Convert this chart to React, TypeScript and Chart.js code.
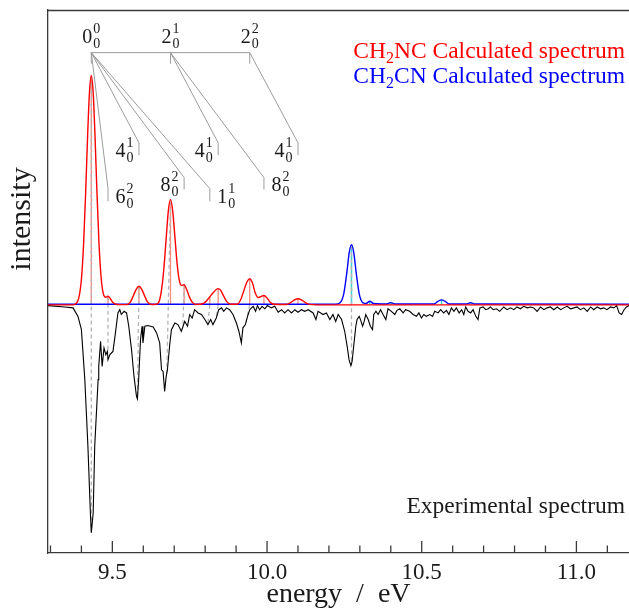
import React, { useEffect, useRef } from 'react';
import { Chart, registerables } from 'chart.js';

Chart.register(...registerables);

const FONT = '"Liberation Serif", "Times New Roman", serif';

// ---- x axis ----
const xMin = 9.292;
const xMax = 11.17;
const tickValues = [9.3, 9.4, 9.5, 9.6, 9.7, 9.8, 9.9, 10.0, 10.1, 10.2, 10.3, 10.4, 10.5, 10.6, 10.7, 10.8, 10.9, 11.0, 11.1];
const majorTickLabels = ['9.5', '10.0', '10.5', '11.0'];
const yMin = -1.082;
const yMax = 1.286;

// ---- CH2NC calculated spectrum (red envelope) ----
const ncEnergy = [9.292, 9.37, 9.382, 9.392, 9.4, 9.407, 9.414, 9.42, 9.426, 9.432, 9.438, 9.444, 9.45, 9.457, 9.464, 9.471, 9.479, 9.486, 9.493, 9.502, 9.515, 9.545, 9.558, 9.568, 9.577, 9.586, 9.595, 9.604, 9.614, 9.627, 9.642, 9.652, 9.66, 9.667, 9.674, 9.681, 9.688, 9.695, 9.702, 9.709, 9.716, 9.723, 9.732, 9.74, 9.749, 9.758, 9.77, 9.79, 9.8, 9.812, 9.825, 9.835, 9.842, 9.85, 9.86, 9.87, 9.882, 9.903, 9.914, 9.925, 9.935, 9.944, 9.953, 9.962, 9.971, 9.98, 9.99, 10.0, 10.01, 10.022, 10.062, 10.076, 10.089, 10.1, 10.111, 10.124, 10.138, 10.16, 11.17];
const ncIntensity = [0, 0, 0.005, 0.033, 0.112, 0.263, 0.5, 0.735, 0.926, 1.0, 0.926, 0.735, 0.5, 0.263, 0.115, 0.048, 0.033, 0.038, 0.028, 0.01, 0.002, 0.001, 0.012, 0.04, 0.068, 0.081, 0.068, 0.04, 0.012, 0.002, 0.003, 0.018, 0.075, 0.165, 0.29, 0.41, 0.46, 0.41, 0.3, 0.185, 0.11, 0.085, 0.088, 0.068, 0.035, 0.012, 0.002, 0.004, 0.012, 0.03, 0.052, 0.066, 0.071, 0.064, 0.038, 0.014, 0.003, 0.003, 0.02, 0.062, 0.1, 0.114, 0.095, 0.052, 0.032, 0.036, 0.041, 0.03, 0.012, 0.003, 0.002, 0.01, 0.022, 0.027, 0.022, 0.01, 0.002, 0, 0];

// ---- CH2CN calculated spectrum (blue envelope) ----
const cnEnergy = [9.292, 10.222, 10.236, 10.248, 10.258, 10.266, 10.273, 10.28, 10.288, 10.298, 10.31, 10.32, 10.332, 10.344, 10.385, 10.4, 10.415, 10.54, 10.552, 10.564, 10.576, 10.588, 10.645, 10.658, 10.671, 11.17];
const cnIntensity = [0.003, 0.003, 0.009, 0.048, 0.142, 0.231, 0.263, 0.231, 0.142, 0.048, 0.009, 0.006, 0.016, 0.006, 0.004, 0.01, 0.004, 0.004, 0.015, 0.022, 0.015, 0.004, 0.004, 0.01, 0.004, 0.003];

// ---- stick spectra ----
const ncStickE = [9.432, 9.486, 9.586, 9.688, 9.732, 9.815, 9.842, 9.944, 9.99, 10.1];
const ncStickH = [1.0, 0.035, 0.078, 0.45, 0.085, 0.035, 0.068, 0.11, 0.04, 0.025];
const cnStickE = [10.273, 10.332, 10.4, 10.564, 10.658];
const cnStickH = [0.26, 0.014, 0.008, 0.02, 0.008];

// ---- assignment links calculated -> experimental (grey dashed) ----
const linkCalcE = [9.432, 9.486, 9.586, 9.688, 9.732, 9.815, 9.842, 9.944, 10.273];
const linkCalcI = [1.0, 0.035, 0.078, 0.45, 0.085, 0, 0, 0, 0.26];
const linkExpE = [9.432, 9.486, 9.581, 9.676, 9.728, 9.809, 9.836, 9.93, 10.273];
const linkExpI = [-0.994, -0.2, -0.4, -0.3, -0.1, -0.08, -0.06, -0.09, -0.265];

// ---- experimental spectrum (plotted downwards) ----
const expEnergy = [9.292, 9.346, 9.373, 9.389, 9.4, 9.411, 9.421, 9.429, 9.432, 9.438, 9.443, 9.454, 9.456, 9.462, 9.467, 9.473, 9.479, 9.484, 9.486, 9.492, 9.502, 9.51, 9.518, 9.524, 9.529, 9.538, 9.546, 9.553, 9.562, 9.57, 9.578, 9.581, 9.585, 9.591, 9.596, 9.599, 9.605, 9.615, 9.632, 9.643, 9.653, 9.659, 9.664, 9.669, 9.674, 9.678, 9.686, 9.691, 9.702, 9.712, 9.723, 9.734, 9.743, 9.75, 9.758, 9.766, 9.777, 9.788, 9.799, 9.809, 9.818, 9.825, 9.836, 9.844, 9.853, 9.86, 9.869, 9.879, 9.89, 9.901, 9.909, 9.917, 9.922, 9.93, 9.937, 9.944, 9.955, 9.963, 9.969, 9.976, 9.984, 9.993, 10.001, 10.014, 10.025, 10.036, 10.047, 10.057, 10.068, 10.079, 10.09, 10.1, 10.111, 10.122, 10.133, 10.149, 10.158, 10.165, 10.181, 10.192, 10.203, 10.213, 10.222, 10.23, 10.241, 10.251, 10.259, 10.265, 10.271, 10.275, 10.28, 10.287, 10.291, 10.298, 10.302, 10.309, 10.314, 10.319, 10.327, 10.334, 10.341, 10.345, 10.352, 10.359, 10.367, 10.375, 10.384, 10.391, 10.402, 10.413, 10.42, 10.429, 10.44, 10.448, 10.461, 10.472, 10.483, 10.491, 10.499, 10.507, 10.515, 10.526, 10.535, 10.542, 10.553, 10.561, 10.571, 10.58, 10.588, 10.596, 10.604, 10.612, 10.621, 10.629, 10.636, 10.642, 10.65, 10.658, 10.666, 10.675, 10.682, 10.688, 10.698, 10.707, 10.715, 10.722, 10.731, 10.742, 10.752, 10.765, 10.776, 10.787, 10.798, 10.808, 10.819, 10.83, 10.841, 10.852, 10.862, 10.873, 10.884, 10.895, 10.905, 10.916, 10.927, 10.938, 10.949, 10.959, 10.97, 10.981, 10.992, 11.002, 11.013, 11.024, 11.035, 11.046, 11.056, 11.067, 11.078, 11.088, 11.099, 11.11, 11.121, 11.13, 11.138, 11.146, 11.154, 11.162, 11.17];
const expIntensity = [-0.003, -0.009, -0.013, -0.05, -0.108, -0.326, -0.617, -0.908, -0.994, -0.908, -0.617, -0.326, -0.268, -0.159, -0.268, -0.188, -0.217, -0.203, -0.239, -0.217, -0.203, -0.122, -0.035, -0.021, -0.042, -0.028, -0.035, -0.093, -0.195, -0.312, -0.399, -0.41, -0.326, -0.152, -0.093, -0.166, -0.093, -0.09, -0.096, -0.122, -0.166, -0.283, -0.29, -0.377, -0.312, -0.283, -0.166, -0.108, -0.079, -0.086, -0.115, -0.072, -0.093, -0.042, -0.057, -0.021, -0.035, -0.042, -0.064, -0.086, -0.064, -0.086, -0.057, -0.021, -0.013, -0.028, -0.013, -0.021, -0.042, -0.079, -0.115, -0.166, -0.1, -0.086, -0.05, -0.021, -0.006, -0.028, -0.003, -0.021, -0.006, -0.017, -0.003, -0.013, -0.006, -0.032, -0.021, -0.035, -0.021, -0.035, -0.021, -0.032, -0.021, -0.028, -0.021, -0.035, -0.064, -0.028, -0.042, -0.035, -0.064, -0.042, -0.072, -0.042, -0.064, -0.115, -0.181, -0.239, -0.265, -0.246, -0.181, -0.093, -0.064, -0.05, -0.064, -0.093, -0.072, -0.042, -0.064, -0.093, -0.108, -0.042, -0.028, -0.042, -0.021, -0.042, -0.064, -0.017, -0.028, -0.042, -0.024, -0.017, -0.035, -0.021, -0.028, -0.042, -0.05, -0.035, -0.057, -0.042, -0.05, -0.042, -0.05, -0.028, -0.035, -0.021, -0.035, -0.024, -0.042, -0.013, -0.028, -0.013, -0.035, -0.021, -0.042, -0.009, -0.028, -0.035, -0.021, -0.05, -0.064, -0.013, -0.009, -0.021, -0.017, -0.009, -0.021, -0.017, -0.028, -0.009, -0.021, -0.013, -0.021, -0.009, -0.017, -0.006, -0.013, -0.009, -0.013, -0.028, -0.009, -0.021, -0.013, -0.009, -0.021, -0.009, -0.021, -0.013, -0.006, -0.017, -0.013, -0.009, -0.021, -0.013, -0.028, -0.009, -0.021, -0.009, -0.017, -0.013, -0.021, -0.009, -0.013, -0.003, -0.035, -0.042, -0.021, -0.009, -0.003];

// ---- vibrational progression tree ----
const rootE = [9.432, 9.688, 9.944];
const rootLabels = [['0', '0', '0'], ['2', '0', '1'], ['2', '0', '2']];
const branchRoot = [0, 0, 0, 0, 1, 1, 2];
const branchE = [9.486, 9.586, 9.732, 9.815, 9.842, 9.99, 10.1];
const branchLabels = [['6', '0', '2'], ['4', '0', '1'], ['8', '0', '2'], ['1', '0', '1'], ['4', '0', '1'], ['8', '0', '2'], ['4', '0', '1']];
const branchTier = [2, 0, 1, 2, 0, 1, 0];
const branchSide = ['right', 'left', 'left', 'right', 'left', 'right', 'left'];
const treeBarLevel = 1.1;
const treeDropLevel = 1.052;
const tierDiagEnd = [0.707, 0.555, 0.507];
const tierEnd = [0.653, 0.503, 0.452];

const legendTexts = [
  { pre: 'CH', sub: '2', post: 'NC Calculated spectrum', color: '#ff0000' },
  { pre: 'CH', sub: '2', post: 'CN Calculated spectrum', color: '#0000ff' },
];
const expLabel = 'Experimental spectrum';
const yTitle = 'intensity';
const xTitle = 'energy  /  eV';

const pts = (xs: number[], ys: number[]) => xs.map((x, i) => ({ x, y: ys[i] }));
const segs = (x0: number[], y0: number[], x1: number[], y1: number[]) =>
  x0.flatMap((x, i) => [{ x, y: y0[i] }, { x: x1[i], y: y1[i] }, { x: x1[i], y: null as any }]);

function drawAssign(ctx: CanvasRenderingContext2D, lab: string[], x: number, base: number, align: string) {
  ctx.font = `20px ${FONT}`;
  const mw = ctx.measureText(lab[0]).width;
  ctx.font = `14px ${FONT}`;
  const sw = Math.max(ctx.measureText(lab[1]).width, ctx.measureText(lab[2]).width);
  const total = mw + 1 + sw;
  let left = x;
  if (align === 'center') left = x - total / 2;
  else if (align === 'right') left = x - total;
  ctx.textAlign = 'left';
  ctx.textBaseline = 'alphabetic';
  ctx.fillStyle = '#1a1a1a';
  ctx.font = `20px ${FONT}`;
  ctx.fillText(lab[0], left, base);
  ctx.font = `14px ${FONT}`;
  ctx.fillText(lab[2], left + mw + 1, base - 10);
  ctx.fillText(lab[1], left + mw + 1, base + 5);
}

const decorPlugin = {
  id: 'decor',
  afterDatasetsDraw(chart: any) {
    const { ctx, chartArea } = chart;
    const xs = chart.scales.x;
    const ys = chart.scales.y;
    ctx.save();

    // top frame line
    ctx.strokeStyle = '#3a3a3a';
    ctx.lineWidth = 1.3;
    ctx.beginPath();
    ctx.moveTo(chartArea.left, chartArea.top + 0.5);
    ctx.lineTo(chartArea.right, chartArea.top + 0.5);
    ctx.stroke();

    // inward tick marks
    ctx.strokeStyle = '#3a3a3a';
    ctx.lineWidth = 1.3;
    xs.ticks.forEach((t: any) => {
      const px = xs.getPixelForValue(t.value);
      const major = majorTickLabels.includes(Number(t.value).toFixed(1));
      const len = major ? 12 : 7.5;
      ctx.beginPath();
      ctx.moveTo(px, chartArea.bottom);
      ctx.lineTo(px, chartArea.bottom - len);
      ctx.stroke();
    });

    // progression tree
    const barY = ys.getPixelForValue(treeBarLevel);
    const dropY = ys.getPixelForValue(treeDropLevel);
    ctx.strokeStyle = '#9c9c9c';
    ctx.lineWidth = 1;
    ctx.beginPath();
    ctx.moveTo(xs.getPixelForValue(rootE[0]), barY);
    ctx.lineTo(xs.getPixelForValue(rootE[rootE.length - 1]), barY);
    rootE.forEach((e) => {
      const px = xs.getPixelForValue(e);
      ctx.moveTo(px, barY);
      ctx.lineTo(px, dropY);
    });
    branchE.forEach((e, i) => {
      const rx = xs.getPixelForValue(rootE[branchRoot[i]]);
      const bx = xs.getPixelForValue(e);
      ctx.moveTo(rx, barY);
      ctx.lineTo(bx, ys.getPixelForValue(tierDiagEnd[branchTier[i]]));
      ctx.lineTo(bx, ys.getPixelForValue(tierEnd[branchTier[i]]));
    });
    ctx.stroke();

    rootE.forEach((e, i) => {
      drawAssign(ctx, rootLabels[i], xs.getPixelForValue(e), barY - 10, 'center');
    });
    branchE.forEach((e, i) => {
      const bx = xs.getPixelForValue(e);
      const base = ys.getPixelForValue(tierEnd[branchTier[i]]) + 1.5;
      if (branchSide[i] === 'left') drawAssign(ctx, branchLabels[i], bx - 5.5, base, 'right');
      else drawAssign(ctx, branchLabels[i], bx + 7.5, base, 'left');
    });

    // legend texts (right aligned)
    const rightX = chartArea.right - 4;
    legendTexts.forEach((lt, i) => {
      const base = chartArea.top + 48 + i * 25;
      ctx.font = `23.5px ${FONT}`;
      const w1 = ctx.measureText(lt.pre).width;
      const w3 = ctx.measureText(lt.post).width;
      ctx.font = `16px ${FONT}`;
      const w2 = ctx.measureText(lt.sub).width;
      let left = rightX - (w1 + w2 + w3);
      ctx.fillStyle = lt.color;
      ctx.textAlign = 'left';
      ctx.textBaseline = 'alphabetic';
      ctx.font = `23.5px ${FONT}`;
      ctx.fillText(lt.pre, left, base);
      ctx.font = `16px ${FONT}`;
      ctx.fillText(lt.sub, left + w1, base + 5);
      ctx.font = `23.5px ${FONT}`;
      ctx.fillText(lt.post, left + w1 + w2, base);
    });

    // experimental label
    ctx.fillStyle = '#1a1a1a';
    ctx.font = `23.5px ${FONT}`;
    ctx.textAlign = 'right';
    ctx.textBaseline = 'alphabetic';
    ctx.fillText(expLabel, rightX, chartArea.bottom - 40);

    // y title
    ctx.save();
    ctx.translate(22, 219);
    ctx.rotate(-Math.PI / 2);
    ctx.font = `30px ${FONT}`;
    ctx.textAlign = 'center';
    ctx.textBaseline = 'middle';
    ctx.fillStyle = '#1a1a1a';
    ctx.fillText(yTitle, 0, 0);
    ctx.restore();

    ctx.restore();
  },
};

export default function App() {
  const ref = useRef<HTMLCanvasElement>(null);
  useEffect(() => {
    if (!ref.current) return;
    const chart = new Chart(ref.current, {
      type: 'line',
      data: {
        datasets: [
          {
            label: 'CH2NC',
            data: pts(ncEnergy, ncIntensity),
            borderColor: '#ff0000',
            borderWidth: 1.4,
            pointRadius: 0,
            cubicInterpolationMode: 'monotone',
            order: 1,
          },
          {
            label: 'CH2CN',
            data: pts(cnEnergy, cnIntensity),
            borderColor: '#0000ff',
            borderWidth: 1.4,
            pointRadius: 0,
            cubicInterpolationMode: 'monotone',
            order: 2,
          },
          {
            label: 'Experimental',
            data: pts(expEnergy, expIntensity),
            borderColor: '#000000',
            borderWidth: 1.1,
            pointRadius: 0,
            tension: 0,
            order: 3,
          },
          {
            label: 'links',
            data: segs(linkCalcE, linkCalcI, linkExpE, linkExpI),
            borderColor: '#b4b4b4',
            borderWidth: 1.3,
            borderDash: [4, 3],
            pointRadius: 0,
            tension: 0,
            order: 4,
          },
          {
            label: 'NC sticks',
            data: segs(ncStickE, ncStickE.map(() => 0), ncStickE, ncStickH),
            borderColor: '#f48a80',
            borderWidth: 1.3,
            pointRadius: 0,
            tension: 0,
            order: 5,
          },
          {
            label: 'CN sticks',
            data: segs(cnStickE, cnStickE.map(() => 0), cnStickE, cnStickH),
            borderColor: '#3cd2d2',
            borderWidth: 1.5,
            pointRadius: 0,
            tension: 0,
            order: 6,
          },
        ],
      },
      options: {
        responsive: false,
        animation: false,
        events: [],
        layout: { padding: { top: 10, left: 0, right: 0, bottom: 0 } },
        plugins: { legend: { display: false }, tooltip: { enabled: false } },
        scales: {
          x: {
            type: 'linear',
            min: xMin,
            max: xMax,
            afterBuildTicks: (s: any) => {
              s.ticks = tickValues.map((v) => ({ value: v }));
            },
            afterFit: (s: any) => {
              s.height = 63;
            },
            ticks: {
              autoSkip: false,
              maxRotation: 0,
              padding: 6,
              color: '#1a1a1a',
              font: { family: FONT, size: 23 },
              callback: (v: any) => {
                const s = Number(v).toFixed(1);
                return majorTickLabels.includes(s) ? s : '';
              },
            },
            grid: { display: false, drawTicks: false },
            border: { display: true, color: '#3a3a3a', width: 1.3 },
            title: {
              display: true,
              text: xTitle,
              color: '#1a1a1a',
              font: { family: FONT, size: 28 },
              padding: { top: 0, bottom: 5 },
            },
          },
          y: {
            type: 'linear',
            min: yMin,
            max: yMax,
            afterFit: (s: any) => {
              s.width = 48;
            },
            ticks: { display: false },
            grid: { display: false, drawTicks: false },
            border: { display: true, color: '#3a3a3a', width: 1.3 },
          },
        },
      } as any,
      plugins: [decorPlugin],
    });
    return () => chart.destroy();
  }, []);
  return (
    <div style={{ position: 'absolute', left: 0, top: 0, width: 629, height: 616 }}>
      <canvas ref={ref} width={629} height={616} style={{ display: 'block' }} />
    </div>
  );
}
